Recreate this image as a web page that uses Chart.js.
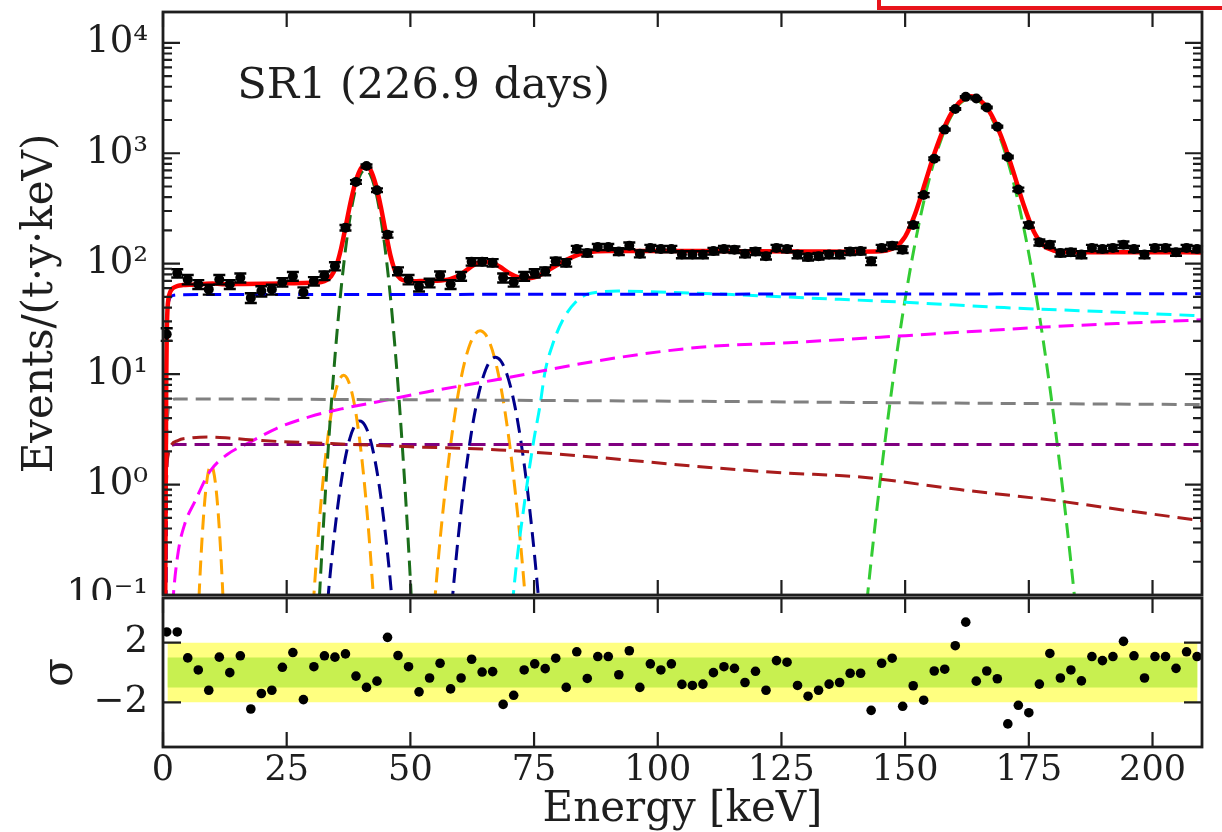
<!DOCTYPE html>
<html>
<head>
<meta charset="utf-8">
<script src="https://cdn.jsdelivr.net/npm/chart.js@4.4.1/dist/chart.umd.min.js"></script>
<style>
  html, body { margin: 0; padding: 0; background: #fff; }
  body { width: 1222px; height: 832px; position: relative; overflow: hidden; }
  #top-wrap { position: absolute; left: 0; top: 0; width: 1222px; height: 600px; }
  #bottom-wrap { position: absolute; left: 0; top: 590px; width: 1222px; height: 242px; }
  #marker-box { position: absolute; left: 877px; top: -30px; width: 400px; height: 40px; box-sizing: border-box; border: 4px solid #e8141b; }
</style>
</head>
<body>
<div id="top-wrap"><canvas id="spectrumChart"></canvas></div>
<div id="bottom-wrap"><canvas id="residualChart"></canvas></div>
<div id="marker-box"></div>
<script>
const FONT = "'DejaVu Serif', serif";
const INK = '#1e1e1e';

// axis ticks
const energyTicks = [0, 25, 50, 75, 100, 125, 150, 175, 200];
const rateDecades = [0.1, 1, 10, 100, 1000, 10000];
const sigmaTicks = [-2, 2];
const runText = 'SR1 (226.9 days)';

// measured spectrum (bin centre keV, rate, error, residual in sigma)
const binEnergy = [0.75, 2.88, 5.0, 7.13, 9.25, 11.38, 13.5, 15.63, 17.75, 19.88,
  22.0, 24.13, 26.25, 28.38, 30.5, 32.63, 34.75, 36.88, 39.0, 41.13,
  43.25, 45.38, 47.5, 49.63, 51.75, 53.88, 56.0, 58.13, 60.25, 62.38,
  64.5, 66.63, 68.75, 70.88, 73.0, 75.13, 77.25, 79.38, 81.5, 83.63,
  85.75, 87.88, 90.0, 92.13, 94.25, 96.38, 98.5, 100.63, 102.75, 104.88,
  107.0, 109.13, 111.25, 113.38, 115.5, 117.63, 119.75, 121.88, 124.0, 126.13,
  128.25, 130.38, 132.5, 134.63, 136.75, 138.88, 141.0, 143.13, 145.25, 147.38,
  149.5, 151.63, 153.75, 155.88, 158.0, 160.13, 162.25, 164.38, 166.5, 168.63,
  170.75, 172.88, 175.0, 177.13, 179.25, 181.38, 183.5, 185.63, 187.75, 189.88,
  192.0, 194.13, 196.25, 198.38, 200.5, 202.63, 204.75, 206.88, 209.0];
const binRate = [23, 82, 72, 65, 58.5, 72, 65, 74.5, 49, 56.5,
  58.5, 68, 77, 55, 69.5, 78, 95, 212, 550, 766,
  463, 183, 85.5, 72, 62, 67, 78, 65, 77, 104,
  104, 102, 74.5, 68, 77, 82, 85.5, 105, 102, 136,
  125, 141.6, 141.6, 129, 145.5, 123, 139, 136, 136, 121,
  121, 121, 130, 136, 134, 123, 129, 117, 139, 136,
  121, 115, 117, 121, 121, 129, 130, 105, 139, 145.5,
  134, 224, 418, 893, 1636, 2510, 3240, 3125, 2600, 1740,
  925, 470, 224, 156, 148.6, 125, 127, 121, 139, 136,
  139, 148.6, 136, 121, 139, 139, 127, 139, 136];
const binError = [3, 7, 7, 6, 6, 7, 6, 7, 5, 6,
  6, 6, 7, 6, 6, 7, 8, 12, 20, 24,
  18, 11, 7, 7, 6, 6, 7, 6, 7, 8,
  8, 8, 7, 6, 7, 7, 7, 8, 8, 9,
  9, 9, 9, 9, 10, 9, 9, 9, 9, 9,
  9, 9, 9, 9, 9, 9, 9, 8, 9, 9,
  9, 8, 8, 9, 9, 9, 9, 8, 9, 10,
  9, 12, 17, 25, 34, 42, 48, 47, 43, 35,
  25, 18, 12, 10, 10, 9, 9, 9, 9, 9,
  9, 10, 9, 9, 9, 9, 9, 9, 9];
const binResidual = [2.72, 2.72, 0.98, 0.17, -1.19, 1.03, -0.01, 1.12, -2.45, -1.41,
  -1.19, 0.35, 1.34, -1.82, 0.39, 1.12, 1.03, 1.25, -0.24, -1.0,
  -0.58, 2.36, 1.14, 0.39, -1.3, -0.37, 0.62, -1.1, -0.37, 0.89,
  0.03, 0.06, -2.14, -1.53, 0.17, 0.58, 0.26, 0.96, -1.0, 1.39,
  -0.4, 1.07, 1.07, -0.15, 1.46, -1.0, 0.58, 0.17, 0.58, -0.8,
  -0.87, -0.78, -0.01, 0.39, 0.28, -0.67, 0.08, -1.19, 0.8, 0.69,
  -0.87, -1.59, -1.19, -0.78, -0.67, -0.05, -0.05, -2.54, 0.62, 0.96,
  -2.27, -0.89, -1.86, 0.1, 0.22, 1.8, 3.38, -0.58, 0.1, -0.42,
  -3.45, -2.2, -2.7, -0.78, 1.28, -0.37, 0.17, -0.56, 1.07, 0.8,
  1.07, 2.09, 1.12, -0.37, 1.07, 1.07, 0.28, 1.39, 1.07];

// total fit
const totalE = [0.45, 0.55, 0.65, 0.75, 0.9, 1.1, 1.5, 2, 3, 4, 6, 8, 10, 12, 15, 20, 25, 30, 32, 34,
  35, 36, 37, 38, 39, 40, 41, 42, 43, 44, 45, 46, 47, 48, 49, 50, 52, 55, 58, 60,
  62, 64, 66, 68, 70, 72, 74, 76, 78, 80, 82, 84, 86, 88, 90, 95, 100, 110, 120, 130,
  140, 145, 148, 150, 152, 154, 156, 158, 160, 162, 163.3, 164, 166, 168, 170, 172, 174, 176, 178, 180,
  182, 185, 190, 200, 210];
const totalV = [0.08, 1, 8, 22, 38, 48, 56, 60, 63, 64, 64.6, 65.2, 66.2, 65.1, 65.3, 65.7, 66.4, 67.2, 68.3, 77.3,
  94.8, 137.5, 226.5, 375.7, 565, 727, 781, 698, 520, 332, 194, 117, 84, 72.8, 69.9, 69.3, 69.6, 70, 72.5, 79.1,
  91.7, 103, 103.8, 94.3, 82, 75, 74, 78, 88, 99, 111, 121, 127, 129.5, 130.5, 130.5, 130, 130, 129.5, 129,
  128.5, 129.5, 141, 176, 281, 533, 1019, 1747, 2562, 3154, 3278, 3242, 2777, 1993, 1214, 651, 336, 196, 146, 131.5,
  128, 127, 127, 127, 126.5];

// flat / slowly varying components
const blueE = [0.6, 0.7, 0.8, 1.0, 1.4, 2, 3, 10, 210];
const blueV = [0.05, 10, 30, 42, 49, 51.5, 52.3, 52.5, 53.5];
const grayE = [0.5, 0.7, 1.0, 1.6, 2.5, 10, 50, 100, 150, 210];
const grayV = [0.05, 2, 4.5, 5.6, 5.95, 5.95, 5.85, 5.7, 5.5, 5.3];
const purpleE = [0.5, 0.7, 1.0, 1.5, 2.5, 210];
const purpleV = [0.05, 1.0, 1.9, 2.2, 2.3, 2.3];
const brownE = [0.5, 0.7, 1.0, 1.5, 3, 6, 9, 14, 20, 34, 50, 68, 88, 108, 125, 141, 161, 181, 195, 210];
const brownV = [0.05, 1.0, 1.8, 2.2, 2.5, 2.65, 2.7, 2.62, 2.5, 2.35, 2.2, 2.06, 1.76, 1.46, 1.28, 1.17, 0.9, 0.71, 0.58, 0.47];
const magentaE = [1.7, 2.1, 3.1, 4.4, 6.5, 9.5, 12.9, 17.6, 23, 29.7, 36.5, 43.2, 53.3, 66.8, 88.3, 108.5, 128.8, 145, 161, 177, 195, 210];
const magentaV = [0.05, 0.1, 0.25, 0.44, 0.71, 1.32, 1.86, 2.42, 3.23, 4.12, 4.89, 5.6, 6.9, 8.8, 13.3, 17.5, 19.5, 21.6, 23.9, 26.5, 29, 31];
const cyanE = [70.3, 70.8, 73.2, 74.9, 76.2, 77.2, 78.9, 80.9, 83.6, 85.6, 88.3, 92, 100, 115, 130, 150, 170, 190, 210];
const cyanV = [0.05, 0.1, 0.76, 2.45, 5.2, 10.4, 19.4, 31.5, 45.9, 52.6, 55.5, 56.5, 55.5, 52.5, 49, 44.7, 40, 36.8, 33.7];

// line peaks
const darkGreenE = [30.9, 31.9, 32.9, 33.9, 34.9, 35.9, 36.9, 37.9, 38.9, 39.9, 40.9, 41.9, 42.9, 43.9, 44.9, 45.9, 46.9, 47.9, 48.9, 49.9, 50.9];
const darkGreenV = [0.023, 0.165, 0.96, 4.5, 17.2, 53.7, 136, 280, 470, 640, 710, 640, 470, 280, 136, 53.7, 17.2, 4.5, 0.96, 0.165, 0.023];
const limeE = [141.3, 143.3, 145.3, 147.3, 149.3, 151.3, 153.3, 155.3, 157.3, 159.3, 161.3, 163.3, 165.3, 167.3, 169.3, 171.3, 173.3, 175.3, 177.3, 179.3, 181.3, 183.3, 185.3];
const limeV = [0.033, 0.24, 1.45, 7.3, 30.4, 104, 294, 691, 1342, 2157, 2865, 3150, 2865, 2157, 1342, 691, 294, 104, 30.4, 7.3, 1.45, 0.24, 0.033];
const orange1E = [6.7, 7.2, 7.7, 8.2, 8.7, 9.2, 9.7, 10.2, 10.7, 11.2, 11.7, 12.2, 12.7];
const orange1V = [0.022, 0.08, 0.23, 0.52, 0.94, 1.33, 1.5, 1.33, 0.94, 0.52, 0.23, 0.08, 0.022];
const orange2E = [29.5, 30.5, 31.5, 32.5, 33.5, 34.5, 35.5, 36.5, 37.5, 38.5, 39.5, 40.5, 41.5, 42.5, 43.5];
const orange2V = [0.019, 0.1, 0.41, 1.27, 3.1, 5.86, 8.58, 9.75, 8.58, 5.86, 3.1, 1.27, 0.41, 0.1, 0.019];
const orange3E = [54.1, 55.1, 56.1, 57.1, 58.1, 59.1, 60.1, 61.1, 62.1, 63.1, 64.1, 65.1, 66.1, 67.1, 68.1, 69.1, 70.1, 71.1, 72.1, 73.1, 74.1];
const orange3V = [0.031, 0.11, 0.35, 0.94, 2.24, 4.66, 8.5, 13.55, 18.9, 23.1, 24.7, 23.1, 18.9, 13.55, 8.5, 4.66, 2.24, 0.94, 0.35, 0.11, 0.031];
const navy1E = [31.8, 32.8, 33.8, 34.8, 35.8, 36.8, 37.8, 38.8, 39.8, 40.8, 41.8, 42.8, 43.8, 44.8, 45.8, 46.8, 47.8];
const navy1V = [0.013, 0.049, 0.156, 0.41, 0.915, 1.7, 2.65, 3.45, 3.77, 3.45, 2.65, 1.7, 0.915, 0.41, 0.156, 0.049, 0.013];
const navy2E = [57.2, 58.2, 59.2, 60.2, 61.2, 62.2, 63.2, 64.2, 65.2, 66.2, 67.2, 68.2, 69.2, 70.2, 71.2, 72.2, 73.2, 74.2, 75.2, 76.2, 77.2];
const navy2V = [0.019, 0.066, 0.205, 0.554, 1.31, 2.71, 4.92, 7.82, 10.9, 13.3, 14.2, 13.3, 10.9, 7.82, 4.92, 2.71, 1.31, 0.554, 0.205, 0.066, 0.019];

// residual bands
const bandE = [0.9, 209.1];
const band1 = 1;
const band2 = 2;

const SUP = { '-': '\u207B', '0': '\u2070', '1': '\u00B9', '2': '\u00B2', '3': '\u00B3', '4': '\u2074',
  '5': '\u2075', '6': '\u2076', '7': '\u2077', '8': '\u2078', '9': '\u2079' };
function decadeLabel(v) {
  const p = String(Math.round(Math.log10(v)));
  return '10' + p.split('').map(c => SUP[c]).join('');
}

function pairs(xs, ys) {
  return xs.map((x, k) => ({ x: x, y: ys[k] }));
}

function curve(xs, ys, color, width, dashed) {
  return {
    data: pairs(xs, ys),
    showLine: true,
    borderColor: color,
    borderWidth: width,
    borderDash: dashed ? [15, 8] : [],
    pointRadius: 0,
    fill: false,
    cubicInterpolationMode: 'monotone',
    capBezierPoints: false,
    clip: 0
  };
}

// vertical error bars with caps
const errorBars = {
  id: 'errorBars',
  afterDatasetsDraw(chart) {
    const ctx = chart.ctx;
    chart.data.datasets.forEach((ds, i) => {
      if (!ds.errors) return;
      const meta = chart.getDatasetMeta(i);
      const ys = chart.scales[meta.yAxisID];
      ctx.save();
      ctx.strokeStyle = '#000';
      ctx.lineWidth = 2.4;
      ctx.beginPath();
      meta.data.forEach((pt, j) => {
        const v = ds.data[j].y, e = ds.errors[j];
        const y1 = ys.getPixelForValue(v - e), y2 = ys.getPixelForValue(v + e);
        ctx.moveTo(pt.x, y1); ctx.lineTo(pt.x, y2);
        ctx.moveTo(pt.x - 6, y1); ctx.lineTo(pt.x + 6, y1);
        ctx.moveTo(pt.x - 6, y2); ctx.lineTo(pt.x + 6, y2);
      });
      ctx.stroke();
      ctx.restore();
    });
  }
};

// matplotlib-like frame with inward ticks on all sides
const frameTicks = {
  id: 'frameTicks',
  afterDatasetsDraw(chart, args, opts) {
    const { ctx, chartArea: a } = chart;
    const xs = chart.scales.x, ys = chart.scales.y;
    ctx.save();
    ctx.strokeStyle = INK;
    ctx.lineWidth = 2.2;
    ctx.beginPath();
    opts.xMajor.forEach(v => {
      const x = xs.getPixelForValue(v);
      ctx.moveTo(x, a.bottom); ctx.lineTo(x, a.bottom - opts.major);
      ctx.moveTo(x, a.top); ctx.lineTo(x, a.top + opts.major);
    });
    opts.yMajor.forEach(v => {
      const y = ys.getPixelForValue(v);
      ctx.moveTo(a.left, y); ctx.lineTo(a.left + opts.yMajorLen, y);
      ctx.moveTo(a.right, y); ctx.lineTo(a.right - opts.yMajorLen, y);
    });
    (opts.yMinor || []).forEach(v => {
      const y = ys.getPixelForValue(v);
      ctx.moveTo(a.left, y); ctx.lineTo(a.left + opts.minor, y);
      ctx.moveTo(a.right, y); ctx.lineTo(a.right - opts.minor, y);
    });
    ctx.stroke();
    ctx.lineWidth = 2.8;
    ctx.strokeRect(a.left, a.top, a.right - a.left, a.bottom - a.top);
    ctx.restore();
  }
};

const runLabel = {
  id: 'runLabel',
  afterDatasetsDraw(chart, args, opts) {
    if (!opts.text) return;
    const { ctx, scales } = chart;
    ctx.save();
    ctx.font = opts.size + 'px ' + FONT;
    ctx.fillStyle = INK;
    ctx.textBaseline = 'middle';
    ctx.fillText(opts.text, scales.x.getPixelForValue(opts.x), scales.y.getPixelForValue(opts.y));
    ctx.restore();
  }
};

const minorRates = [];
rateDecades.forEach(d => { for (let m = 2; m <= 9; m++) if (d * m < 19000) minorRates.push(d * m); });

function initSpectrum() {
  const ctx = document.getElementById('spectrumChart');
  // Chart.js paints the first dataset last, so the data points come first
  const datasets = [
    {
      data: pairs(binEnergy, binRate),
      errors: binError,
      showLine: false,
      pointRadius: 5,
      pointBackgroundColor: '#000',
      pointBorderWidth: 0
    },
    curve(totalE, totalV, '#ff0000', 4.5, false),
    curve(blueE, blueV, '#0000ff', 3, true),
    curve(brownE, brownV, '#a81c1c', 3, true),
    curve(purpleE, purpleV, '#800080', 3, true),
    curve(grayE, grayV, '#808080', 3, true),
    curve(magentaE, magentaV, '#ff00ff', 3, true),
    curve(cyanE, cyanV, '#00ffff', 3, true),
    curve(limeE, limeV, '#33cc33', 3, true),
    curve(darkGreenE, darkGreenV, '#1a6e1a', 3, true),
    curve(navy1E, navy1V, '#00008b', 3, true),
    curve(navy2E, navy2V, '#00008b', 3, true),
    curve(orange1E, orange1V, '#ffa500', 3, true),
    curve(orange2E, orange2V, '#ffa500', 3, true),
    curve(orange3E, orange3V, '#ffa500', 3, true)
  ];

  new Chart(ctx, {
    type: 'scatter',
    data: { datasets: datasets },
    options: {
      responsive: true,
      maintainAspectRatio: false,
      animation: false,
      devicePixelRatio: 1,
      events: [],
      layout: { padding: { top: 12, right: 20, bottom: 2, left: 0 } },
      elements: { line: { capBezierPoints: false } },
      plugins: {
        legend: { display: false },
        tooltip: { enabled: false },
        frameTicks: { xMajor: energyTicks, yMajor: rateDecades, yMinor: minorRates, major: 15, yMajorLen: 17, minor: 9 },
        runLabel: { text: runText, x: 15, y: 4000, size: 43 }
      },
      scales: {
        x: { type: 'linear', min: 0, max: 210, display: false },
        y: {
          type: 'logarithmic',
          min: 0.1,
          max: 19000,
          afterBuildTicks: s => { s.ticks = rateDecades.map(v => ({ value: v })); },
          afterFit: s => { s.width = 163; s.paddingTop = 0; s.paddingBottom = 0; },
          grid: { display: false, drawTicks: false },
          border: { display: false },
          ticks: {
            font: { family: FONT, size: 37 },
            color: INK,
            padding: 15,
            autoSkip: false,
            callback: v => decadeLabel(v)
          },
          title: {
            display: true,
            text: 'Events/(t\u00B7y\u00B7keV)',
            font: { family: FONT, size: 42, lineHeight: 1 },
            color: INK,
            padding: { top: 20, bottom: 0 }
          }
        }
      }
    },
    plugins: [errorBars, frameTicks, runLabel]
  });
}

function initResiduals() {
  const ctx = document.getElementById('residualChart');
  // first dataset is painted on top
  const datasets = [
    {
      data: pairs(binEnergy, binResidual),
      showLine: false,
      pointRadius: 4.8,
      pointBackgroundColor: '#000',
      pointBorderWidth: 0
    },
    {
      data: pairs(bandE, [band1, band1]),
      showLine: true, borderWidth: 0, pointRadius: 0,
      fill: { value: -band1 },
      backgroundColor: 'rgb(200, 240, 80)'
    },
    {
      data: pairs(bandE, [band2, band2]),
      showLine: true, borderWidth: 0, pointRadius: 0,
      fill: { value: -band2 },
      backgroundColor: 'rgb(255, 255, 128)'
    }
  ];

  new Chart(ctx, {
    type: 'scatter',
    data: { datasets: datasets },
    options: {
      responsive: true,
      maintainAspectRatio: false,
      animation: false,
      devicePixelRatio: 1,
      events: [],
      layout: { padding: { top: 8, right: 20, bottom: 0, left: 0 } },
      plugins: {
        legend: { display: false },
        tooltip: { enabled: false },
        frameTicks: { xMajor: energyTicks, yMajor: sigmaTicks, major: 15, yMajorLen: 18, minor: 0 }
      },
      scales: {
        x: {
          type: 'linear',
          min: 0,
          max: 210,
          afterBuildTicks: s => { s.ticks = energyTicks.map(v => ({ value: v })); },
          afterFit: s => { s.height = 85; s.paddingLeft = 0; s.paddingRight = 0; },
          grid: { display: false, drawTicks: false },
          border: { display: false },
          ticks: { font: { family: FONT, size: 35 }, color: INK, padding: 3, maxRotation: 0, autoSkip: false },
          title: {
            display: true,
            text: 'Energy [keV]',
            font: { family: FONT, size: 42, lineHeight: 1 },
            color: INK,
            padding: { top: 0, bottom: 1 }
          }
        },
        y: {
          type: 'linear',
          min: -5,
          max: 5,
          afterBuildTicks: s => { s.ticks = sigmaTicks.map(v => ({ value: v })); },
          afterFit: s => { s.width = 163; s.paddingTop = 0; s.paddingBottom = 0; },
          grid: { display: false, drawTicks: false },
          border: { display: false },
          ticks: {
            font: { family: FONT, size: 37 },
            color: INK,
            padding: 15,
            callback: v => (v < 0 ? '\u2212' + Math.abs(v) : String(v))
          },
          title: {
            display: true,
            text: '\u03C3',
            font: { family: FONT, size: 42, lineHeight: 1 },
            color: INK,
            padding: { top: 40, bottom: 0 }
          }
        }
      }
    },
    plugins: [frameTicks]
  });
}

window.addEventListener('DOMContentLoaded', () => {
  initSpectrum();
  initResiduals();
});
</script>
</body>
</html>
